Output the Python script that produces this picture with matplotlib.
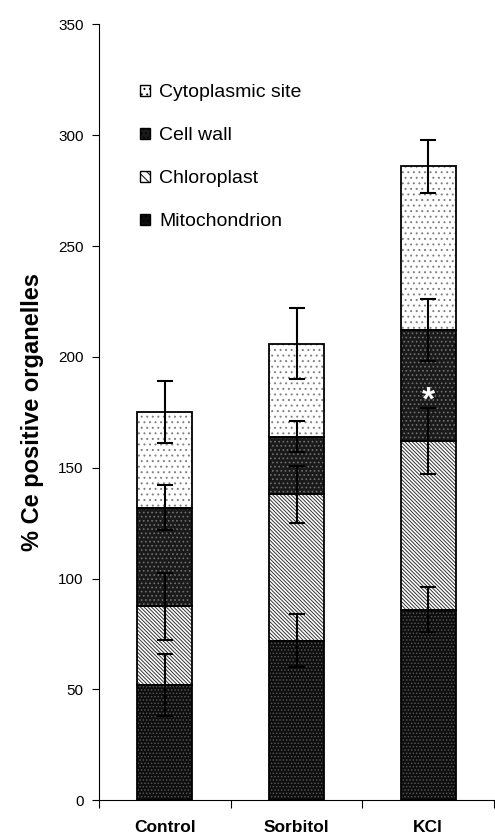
import matplotlib.pyplot as plt
from matplotlib.patches import Patch
import numpy as np

plt.rcParams['font.family'] = ['Liberation Sans', 'DejaVu Sans']
plt.rcParams['hatch.linewidth'] = 0.7

groups = ['Control', 'Sorbitol', 'KCl']
layers = ['Mitochondrion', 'Chloroplast', 'Cell wall', 'Cytoplasmic site']
mito = [52, 72, 86]
chloro = [35.5, 66, 76]
cellwall = [44.5, 26, 50]
cyto = [43, 42, 74]
mito_err = [14, 12, 10]
chloro_err = [15, 13, 15]
cellwall_err = [10, 7, 14]
cyto_err = [14, 16, 12]

styles = {
    'Mitochondrion': ('#0d0d0d', '#555555', '.....'),
    'Chloroplast': ('white', '#333333', '\\' * 9),
    'Cell wall': ('#1a1a1a', '#707070', '....'),
    'Cytoplasmic site': ('white', '#808080', '...'),
}

fig = plt.figure(figsize=(4.95, 8.38), dpi=100)
ax = fig.add_axes([0.2, 0.045, 0.798, 0.926])

x = np.arange(len(groups))
width = 0.42
bottom = np.zeros(3)
handles = []
for name, vals, errs in zip(layers, [mito, chloro, cellwall, cyto],
                            [mito_err, chloro_err, cellwall_err, cyto_err]):
    face, hcol, hatch = styles[name]
    ax.bar(x, vals, width, bottom=bottom, color=face, edgecolor=hcol,
           hatch=hatch, linewidth=0, zorder=2)
    ax.bar(x, vals, width, bottom=bottom, fill=False, edgecolor='black',
           linewidth=1.3, zorder=3)
    top = bottom + np.array(vals)
    ax.errorbar(x, top, yerr=errs, fmt='none', ecolor='black', elinewidth=1.5,
                capsize=6, capthick=1.5, zorder=4)
    handles.append(Patch(facecolor=face, edgecolor='black', hatch=hatch[:4],
                         linewidth=1.0))
    bottom = top

ax.text(2, 180, '*', color='white', fontsize=24, fontweight='bold',
        ha='center', va='center', zorder=5)

ax.set_xlim(-0.5, 2.5)
ax.set_ylim(0, 350)
ax.set_yticks(range(0, 351, 50))
ax.set_xticks([-0.5, 0.5, 1.5, 2.5])
ax.set_xticklabels([])
ax.set_xticks(x, minor=True)
ax.set_xticklabels(groups, minor=True, fontsize=12.5, fontweight='bold')
ax.tick_params(axis='x', which='minor', length=0, pad=14)
ax.tick_params(axis='x', which='major', length=6, direction='out')
ax.tick_params(axis='y', length=5, labelsize=11, pad=6)
ax.spines['top'].set_visible(False)
ax.spines['right'].set_visible(False)
ax.set_ylabel('% Ce positive organelles', fontsize=17, fontweight='bold', labelpad=10)

ax.legend(handles[::-1], layers[::-1], loc='upper left',
          bbox_to_anchor=(0.06, 0.945), frameon=False, fontsize=14,
          handlelength=0.52, handleheight=0.52, handletextpad=0.46,
          labelspacing=1.33)

fig.savefig('out.png', dpi=100)
